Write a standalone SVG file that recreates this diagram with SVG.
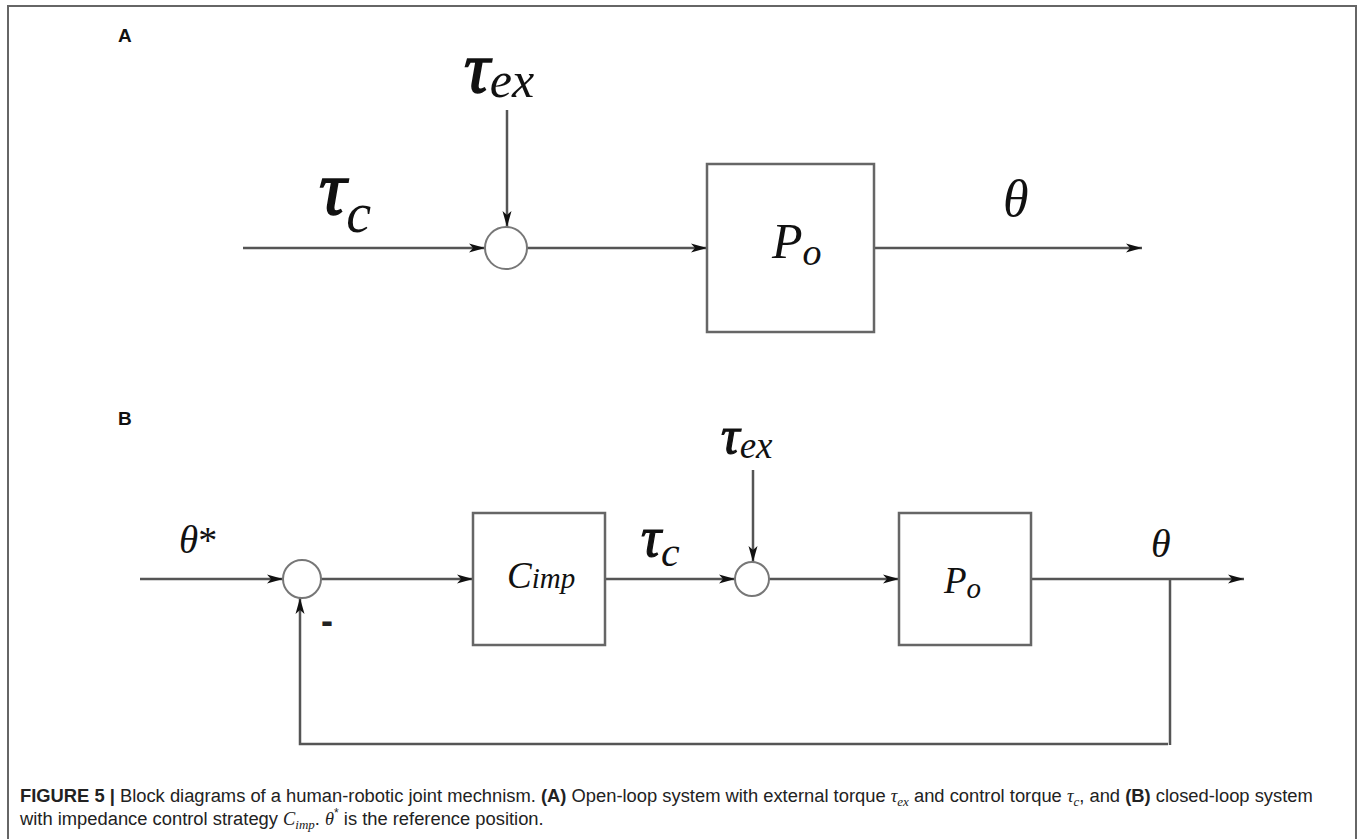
<svg xmlns="http://www.w3.org/2000/svg" width="1360" height="839" viewBox="0 0 1360 839">
<defs>
<marker id="ah" markerUnits="userSpaceOnUse" markerWidth="18" markerHeight="12" refX="16" refY="6" orient="auto">
<path d="M0,1.5 L16,6 L0,10.5 L4,6 Z" fill="#111"/>
</marker>
<style>
.ln{stroke:#555;stroke-width:2.5;fill:none}
.arr{stroke:#555;stroke-width:2.5;fill:none;marker-end:url(#ah)}
.blk{stroke:#666;stroke-width:2.5;fill:#fff}
.sum{stroke:#777;stroke-width:2;fill:#fff}
.m{font-family:"Liberation Serif","Times New Roman",serif;font-style:italic;fill:#111}
.t{stroke:#111;stroke-width:1.6}
.lab{font-family:"Liberation Sans",Arial,sans-serif;font-weight:bold;font-size:19px;fill:#111}
.cap{font-family:"Liberation Sans",Arial,sans-serif;font-size:18.35px;fill:#222}
.b{font-weight:bold}
.ci{font-family:"Liberation Serif","Times New Roman",serif;font-style:italic}
</style>
</defs>
<rect x="8" y="6" width="1348" height="840" fill="none" stroke="#666" stroke-width="2"/>
<text class="lab" x="118" y="42">A</text>
<text class="lab" x="118" y="425">B</text>

<g id="connectors">
<line class="arr" x1="243" y1="248" x2="485" y2="248"/>
<line class="arr" x1="507" y1="110" x2="507" y2="227"/>
<line class="arr" x1="527" y1="248" x2="707" y2="248"/>
<line class="arr" x1="874" y1="248" x2="1142" y2="248"/>
<line class="arr" x1="140" y1="579" x2="283" y2="579"/>
<line class="arr" x1="321" y1="579" x2="473" y2="579"/>
<line class="arr" x1="605" y1="579" x2="735" y2="579"/>
<line class="arr" x1="753" y1="470" x2="753" y2="562"/>
<line class="arr" x1="769" y1="579" x2="899" y2="579"/>
<line class="arr" x1="1031" y1="579" x2="1244" y2="579"/>
<polyline class="ln" points="1170,579 1170,745"/>
<polyline class="arr" points="1168,744 300,744 300,598"/>
</g>

<g id="A-sum">
<circle class="sum" cx="506" cy="248" r="21"/>
</g>
<g id="A-plant">
<rect class="blk" x="707" y="164" width="167" height="168"/>
<text class="m" x="772" y="258" font-size="50">P<tspan font-size="38" dy="7">o</tspan></text>
</g>
<g id="A-labels">
<text class="m" x="464" y="92" font-size="72"><tspan class="t">τ</tspan><tspan font-size="50" dy="5">ex</tspan></text>
<text class="m" x="319" y="214" font-size="76"><tspan class="t">τ</tspan><tspan font-size="56" dy="18">c</tspan></text>
<text class="m" x="1003" y="216" font-size="52">θ</text>
</g>

<g id="B-sum1">
<circle class="sum" cx="302" cy="579" r="19"/>
</g>
<g id="B-controller">
<rect class="blk" x="473" y="513" width="132" height="132"/>
<text class="m" x="507" y="588" font-size="37">C<tspan font-size="29">imp</tspan></text>
</g>
<g id="B-sum2">
<circle class="sum" cx="752" cy="579" r="17"/>
</g>
<g id="B-plant">
<rect class="blk" x="899" y="513" width="132" height="132"/>
<text class="m" x="944" y="593" font-size="37">P<tspan font-size="29" dy="5">o</tspan></text>
</g>
<g id="B-labels">
<text class="m" x="179" y="553" font-size="39">θ<tspan font-style="normal" font-size="38">*</tspan></text>
<text class="m" x="721" y="453" font-size="52"><tspan class="t" style="stroke-width:1.2">τ</tspan><tspan font-size="37" dy="5">ex</tspan></text>
<text class="m" x="641" y="556" font-size="56"><tspan class="t" style="stroke-width:1.2">τ</tspan><tspan font-size="42" dy="10">c</tspan></text>
<text class="m" x="1151" y="557" font-size="40">θ</text>
<text x="321" y="633" font-family="Liberation Sans,Arial,sans-serif" font-weight="bold" font-size="36" fill="#222">-</text>
</g>

<g id="caption">
<text class="cap" x="20" y="802"><tspan class="b">FIGURE 5 |</tspan> Block diagrams of a human-robotic joint mechnism. <tspan class="b">(A)</tspan> Open-loop system with external torque <tspan class="ci">τ</tspan><tspan class="ci" font-size="13" dy="4">ex</tspan><tspan dy="-4"> and control torque </tspan><tspan class="ci">τ</tspan><tspan class="ci" font-size="13" dy="4">c</tspan><tspan dy="-4">, and </tspan><tspan class="b">(B)</tspan> closed-loop system</text>
<text class="cap" x="20" y="825">with impedance control strategy <tspan class="ci">C</tspan><tspan class="ci" font-size="13" dy="4">imp</tspan><tspan dy="-4">. </tspan><tspan class="ci">θ</tspan><tspan font-size="12" dy="-8">*</tspan><tspan dy="8"> is the reference position.</tspan></text>
</g>
</svg>
